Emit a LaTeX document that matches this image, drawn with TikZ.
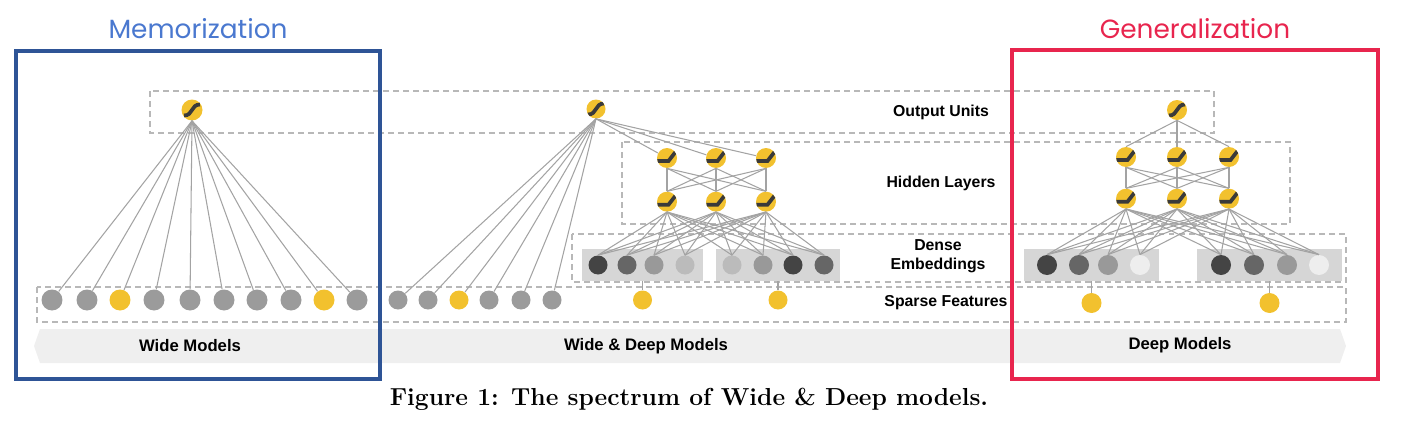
\documentclass[tikz,border=0pt]{standalone}
\usepackage{fontspec}
\newfontfamily\labelfont{Liberation Sans}
\newfontfamily\titlefont{Poppins}
\usetikzlibrary{positioning}
\definecolor{unityellow}{HTML}{F2C12E}
\definecolor{icondark}{HTML}{3A3A3A}
\definecolor{featgray}{HTML}{9B9B9B}
\definecolor{edgegray}{HTML}{A3A3A3}
\definecolor{dashgray}{HTML}{B8B8B8}
\definecolor{bandgray}{HTML}{EFEFEF}
\definecolor{boxgray}{HTML}{D6D6D6}
\definecolor{embA}{HTML}{444444}
\definecolor{embB}{HTML}{666666}
\definecolor{embC}{HTML}{999999}
\definecolor{embD}{HTML}{BBBBBB}
\definecolor{embE}{HTML}{EEEEEE}
\definecolor{memblue}{HTML}{2E5496}
\definecolor{memtext}{HTML}{4A78CF}
\definecolor{genred}{HTML}{E8254E}
\tikzset{
unit/.style={circle, inner sep=0pt, minimum size=0.4cm}, % every neuron
sparse/.style={unit, fill=featgray}, % inactive sparse feature
sparseon/.style={unit, fill=unityellow}, % active sparse feature
sigmoid/.style={unit, fill=unityellow,
  path picture={\draw[icondark, line width=0.075cm]
    ([shift={(-0.16cm,-0.11cm)}]path picture bounding box.center)
    .. controls ([shift={(0.03cm,-0.11cm)}]path picture bounding box.center)
    and ([shift={(-0.03cm,0.11cm)}]path picture bounding box.center)
    .. ([shift={(0.16cm,0.11cm)}]path picture bounding box.center);}}, % output unit
relu/.style={unit, fill=unityellow,
  path picture={\draw[icondark, line width=0.075cm]
    ([shift={(-0.22cm,-0.06cm)}]path picture bounding box.center)
    -- ([shift={(0.03cm,-0.06cm)}]path picture bounding box.center)
    -- ([shift={(0.17cm,0.12cm)}]path picture bounding box.center);}}, % hidden unit
embbox/.style={fill=boxgray, inner sep=0pt, minimum height=0.64cm}, % embedding group
edge/.style={draw=edgegray, line width=0.6pt}, % connections
layer/.style={draw=dashgray, dash pattern=on 3.4pt off 2.3pt, line width=0.6pt}, % layer frames
layertext/.style={font=\labelfont\bfseries\fontsize{9}{10.6}\selectfont, align=center},
modeltext/.style={font=\labelfont\bfseries\fontsize{9.5}{11}\selectfont},
}

\begin{document}
\begin{tikzpicture}[x=0.02cm, y=-0.02cm]
\useasboundingbox (0,0) rectangle (1406,426);

% layer frames and model band
\draw[layer] (150,91) rectangle (1214,133);
\draw[layer] (622,142) rectangle (1290,224);
\draw[layer] (572,234) rectangle (1346,282);
\draw[layer] (37,287) rectangle (1346,322);
\fill[bandgray] (40,329) -- (1340,329) -- (1346,346) -- (1340,363) -- (40,363) -- (34,346) -- cycle;

% wide model
\node[sigmoid, minimum size=0.42cm] (wout) at (192,110) {};
\foreach \x/\s [count=\i] in {52/sparse, 87/sparse, 120/sparseon, 154/sparse, 190/sparse,
  224/sparse, 257/sparse, 291/sparse, 324/sparseon, 357/sparse}
  \node[\s, minimum size=0.42cm] (ws\i) at (\x,300) {};
\foreach \i in {1,...,10}
  \draw[edge] (wout.south) -- (ws\i);

% wide & deep model
\node[sigmoid, minimum size=0.38cm] (wdout) at (596,109) {};
\foreach \x/\s [count=\i] in {398/sparse, 428/sparse, 459/sparseon, 489/sparse, 521/sparse, 552/sparse}
  \node[\s, minimum size=0.38cm] (wds\i) at (\x,300) {};
\foreach \x [count=\i] in {667,716,766} {
  \node[relu] (wdh1\i) at (\x,158) {};
  \node[relu, below=0.46cm of wdh1\i] (wdh2\i) {};
}
\node[embbox, minimum width=2.42cm] (wdemb1) at (642.5,265) {};
\node[embbox, minimum width=2.48cm] (wdemb2) at (778,265) {};
\foreach \x/\c [count=\i] in {598/embA, 627/embB, 654/embC, 685/embD,
  732/embD, 763/embC, 793/embA, 824/embB}
  \node[unit, minimum size=0.38cm, fill=\c] (wde\i) at (\x,265) {};
\node[sparseon, minimum size=0.38cm] (wdsp1) at (642.5,300) {};
\node[sparseon, minimum size=0.38cm] (wdsp2) at (778,300) {};
\foreach \i in {1,...,6}
  \draw[edge] (wdout.south) -- (wds\i);
\foreach \i in {1,2,3} {
  \draw[edge] (wdout.south) -- (wdh1\i);
  \foreach \j in {1,2,3}
    \draw[edge] (wdh1\i.south) -- (wdh2\j.north);
  \foreach \j in {1,...,8}
    \draw[edge] (wdh2\i.south) -- (wde\j.north);
}
\draw[edge] (wdemb1.south) -- (wdsp1.north);
\draw[edge] (wdemb2.south) -- (wdsp2.north);

% deep model
\node[sigmoid] (dout) at (1177,110) {};
\foreach \x [count=\i] in {1126,1177,1229} {
  \node[relu] (dh1\i) at (\x,157) {};
  \node[relu, below=0.42cm of dh1\i] (dh2\i) {};
}
\node[embbox, minimum width=2.7cm] (demb1) at (1091.5,265) {};
\node[embbox, minimum width=2.9cm] (demb2) at (1269.5,265) {};
\foreach \x/\c [count=\i] in {1047/embA, 1079/embB, 1108/embC, 1140/embE,
  1221/embA, 1254/embB, 1287/embC, 1319/embE}
  \node[unit, fill=\c] (de\i) at (\x,265) {};
\node[sparseon] (dsp1) at (1091.5,303) {};
\node[sparseon] (dsp2) at (1269.5,303) {};
\foreach \i in {1,2,3} {
  \draw[edge] (dout.south) -- (dh1\i.north);
  \foreach \j in {1,2,3}
    \draw[edge] (dh1\i.south) -- (dh2\j.north);
  \foreach \j in {1,...,8}
    \draw[edge] (dh2\i.south) -- (de\j.north);
}
\draw[edge] (demb1.south) -- (dsp1.north);
\draw[edge] (demb2.south) -- (dsp2.north);

% labels
\node[layertext] (outlbl) at (941,112) {Output Units};
\node[layertext] (hidlbl) at (941,183) {Hidden Layers};
\node[layertext] (emblbl) at (938,256.5) {Dense\\Embeddings};
\node[layertext] (sparselbl) at (946,303) {Sparse Features};
\node[modeltext] (widelbl) at (190,346) {Wide Models};
\node[modeltext] (wdlbl) at (646,346) {Wide \& Deep Models};
\node[modeltext] (deeplbl) at (1180,345) {Deep Models};

% memorization / generalization frames
\draw[memblue, line width=0.07cm] (16,51) rectangle (380,379);
\draw[genred, line width=0.08cm] (1012,50) rectangle (1378,379);
\node[anchor=base, text=memtext, font=\titlefont\fontsize{15}{18}\selectfont] (memlbl) at (198,38) {Memorization};
\node[anchor=base, text=genred, font=\titlefont\fontsize{15}{18}\selectfont] (genlbl) at (1195,38) {Generalization};

% caption
\node[anchor=base, font=\bfseries\fontsize{14}{16}\selectfont] (caption) at (689,405) {Figure 1: The spectrum of Wide \& Deep models.};
\end{tikzpicture}
\end{document}
